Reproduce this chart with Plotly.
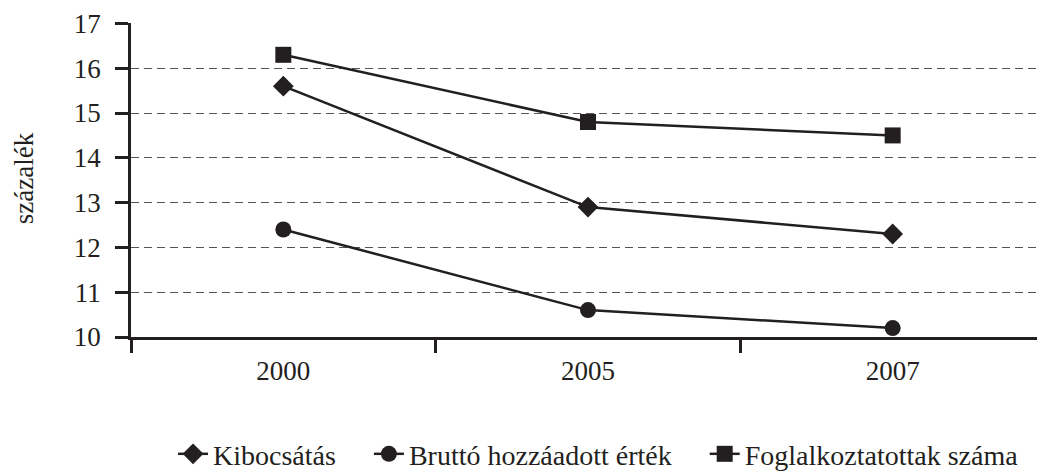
import plotly.graph_objects as go

years = ["2000", "2005", "2007"]
kibocsatas = [15.6, 12.9, 12.3]
brutto = [12.4, 10.6, 10.2]
foglalkoztatottak = [16.3, 14.8, 14.5]

y_ticks = [10, 11, 12, 13, 14, 15, 16, 17]
names = ["Kibocsátás", "Bruttó hozzáadott érték", "Foglalkoztatottak száma"]

INK = "#231f20"
FONT = "Liberation Serif"
FS = 27
PAD = "\u00a0\u00a0\u00a0\u00a0"

fig = go.Figure()
series = [
    (names[0] + PAD, kibocsatas, "diamond", 16),
    (names[1] + PAD, brutto, "circle", 16),
    (names[2], foglalkoztatottak, "square", 16),
]
for name, vals, sym, sz in series:
    fig.add_trace(go.Scatter(
        x=years, y=vals, name=name, mode="lines+markers",
        line=dict(color=INK, width=2.5),
        marker=dict(symbol=sym, size=sz, color=INK, line=dict(width=0)),
    ))

fig.update_layout(
    width=1037, height=468,
    margin=dict(l=123, r=0, t=15, b=139, autoexpand=False),
    paper_bgcolor="white", plot_bgcolor="white",
    font=dict(family=FONT, color=INK, size=FS),
    showlegend=True,
    legend=dict(orientation="h", x=0.046, xanchor="left", y=-0.373, yanchor="middle",
                font=dict(size=28, family=FONT, color=INK), itemwidth=30,
                traceorder="normal", tracegroupgap=0),
)
fig.update_xaxes(
    type="category", range=[-0.5, 2.5], tickson="boundaries",
    ticks="outside", ticklen=13, tickwidth=2.5, tickcolor=INK,
    showline=True, linecolor=INK, linewidth=2.5, showgrid=False,
    ticklabelstandoff=8,
    tickfont=dict(size=FS, family=FONT, color=INK),
)
fig.update_yaxes(
    range=[10, 17.01], tickvals=y_ticks, ticks="outside", ticklen=13, tickwidth=2.5,
    tickcolor=INK, showline=True, linecolor=INK, linewidth=2.5,
    showgrid=True, gridcolor="#555555", gridwidth=1.2, griddash="8px,5px",
    zeroline=False, ticklabelstandoff=9,
    tickfont=dict(size=FS, family=FONT, color=INK),
)
fig.add_annotation(
    text="százalék", textangle=-90, xref="paper", yref="paper",
    x=-0.117, y=0.506, xanchor="center", yanchor="middle", showarrow=False,
    font=dict(size=FS, family=FONT, color=INK),
)

fig.write_html("out.html")
